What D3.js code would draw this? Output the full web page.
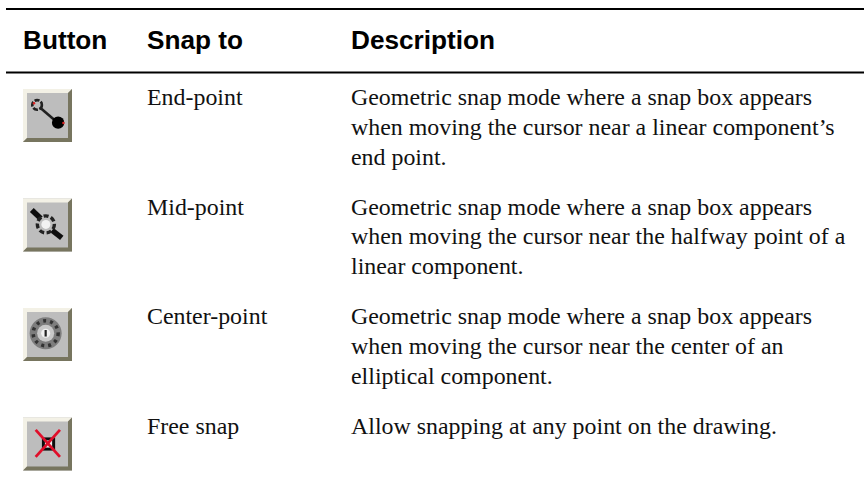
<!DOCTYPE html>
<html>
<head>
<meta charset="utf-8">
<script src="https://cdn.jsdelivr.net/npm/d3@7"></script>
<style>
    html, body { margin: 0; padding: 0; background: #fff; }
    svg { display: block; }
    .head { font-family: "Liberation Sans", Arial, sans-serif; font-weight: bold; font-size: 26.2px; fill: #000; }
    .cell { font-family: "Liberation Serif", "Times New Roman", serif; font-size: 23.9px; fill: #111; }
</style>
</head>
<body>
<div id="container"></div>
<script>
//table content
var headers = ["Button", "Snap to", "Description"];
var buttons = ["end", "mid", "center", "free"];
var snapTo = ["End-point", "Mid-point", "Center-point", "Free snap"];
var descriptions = [
    ["Geometric snap mode where a snap box appears",
     "when moving the cursor near a linear component\u2019s",
     "end point."],
    ["Geometric snap mode where a snap box appears",
     "when moving the cursor near the halfway point of a",
     "linear component."],
    ["Geometric snap mode where a snap box appears",
     "when moving the cursor near the center of an",
     "elliptical component."],
    ["Allow snapping at any point on the drawing."]
];

// width and height
var width = 864;
var height = 487;

var svg = d3.select("#container")
    .append("svg")
    .attr("width", width)
    .attr("height", height);

//soft look of the scaled up screenshot icons
svg.append("defs").append("filter")
    .attr("id", "soft")
    .append("feGaussianBlur")
    .attr("stdDeviation", 0.7);

// columns and rows
var colX = d3.scaleOrdinal().domain(headers).range([23, 147, 351]);
var rowY = d3.scalePoint().domain(buttons).range([89, 417.5]);
var lineHeight = 29.6;
var baseline = 16.3;

// table rules
svg.selectAll("line.rule")
    .data([9, 72.6])
    .enter()
    .append("line")
    .attr("class", "rule")
    .attr("x1", 6)
    .attr("x2", width)
    .attr("y1", d => d)
    .attr("y2", d => d)
    .attr("stroke", "#000")
    .attr("stroke-width", 2);

// header row
svg.selectAll("text.head")
    .data(headers)
    .enter()
    .append("text")
    .attr("class", "head")
    .attr("x", d => colX(d))
    .attr("y", 48.5)
    .text(d => d);

// snap to column
svg.selectAll("text.snap")
    .data(snapTo)
    .enter()
    .append("text")
    .attr("class", "cell snap")
    .attr("x", colX("Snap to"))
    .attr("y", (d, i) => rowY(buttons[i]) + baseline)
    .text(d => d);

// description column
descriptions.forEach(function (lines, i) {
    svg.selectAll("text.desc" + i)
        .data(lines)
        .enter()
        .append("text")
        .attr("class", "cell desc" + i)
        .attr("x", colX("Description"))
        .attr("y", (d, j) => rowY(buttons[i]) + baseline + j * lineHeight)
        .text(d => d);
});

// icons, drawn on a 24x26 pixel grid like the original toolbar bitmaps
var iconW = 49;
var iconH = 53;
var px = d3.scaleLinear().domain([0, 24]).range([0, iconW]);
var py = d3.scaleLinear().domain([0, 26]).range([0, iconH]);

function drawButton(g) {
    g.append("rect").attr("width", iconW).attr("height", iconH).attr("fill", "#bdbdbd");
    g.append("path")
        .attr("d", `M0 0H${iconW}L${iconW - 4} 4H4V${iconH - 4}L0 ${iconH}Z`)
        .attr("fill", "#f3f1e6");
    g.append("path")
        .attr("d", `M${iconW} 0V${iconH}H0L4 ${iconH - 4}H${iconW - 4}V4Z`)
        .attr("fill", "#77745f");
}

function seg(g, a, b, c, d, color, w) {
    g.append("line")
        .attr("x1", px(a)).attr("y1", py(b))
        .attr("x2", px(c)).attr("y2", py(d))
        .attr("stroke", color).attr("stroke-width", w);
}

function dot(g, a, b, r, fill, stroke, w, dash) {
    g.append("circle")
        .attr("cx", px(a)).attr("cy", py(b)).attr("r", r)
        .attr("fill", fill).attr("stroke", stroke).attr("stroke-width", w)
        .attr("stroke-dasharray", dash);
}

var glyphs = {
    end: function (g) {
        seg(g, 7, 8, 17, 16.5, "#222", 2.6);
        dot(g, 6.9, 7.8, 4.8, "#bdbdbd", "#222", 2.6, "5 1.5");
        dot(g, 17.2, 16.5, 6.2, "#000", "none", 0);
        dot(g, 5.4, 7, 1.2, "#d22", "none", 0);
        dot(g, 19.8, 16.7, 1.2, "#d22", "none", 0);
    },
    mid: function (g) {
        seg(g, 4.3, 5.6, 9.5, 10.5, "#111", 5.5);
        seg(g, 13.5, 15, 19, 19.3, "#111", 5.5);
        dot(g, 11.2, 12.7, 8.5, "#bdbdbd", "#222", 3.4, "5 2.5");
        dot(g, 11.2, 12.7, 4.5, "#f2f2f2", "none", 0);
    },
    center: function (g) {
        dot(g, 11.1, 12.4, 16, "#7d7d7d", "none", 0);
        dot(g, 11.1, 12.4, 12.5, "none", "#333", 3.5, "3 4");
        dot(g, 11.1, 12.4, 8.5, "#c8c8c8", "none", 0);
        dot(g, 11.1, 12.4, 4.5, "#f0f0f0", "none", 0);
        seg(g, 11.1, 10.8, 11.1, 14, "#222", 2.2);
    },
    free: function (g) {
        g.append("rect")
            .attr("x", px(10)).attr("y", py(10.5))
            .attr("width", px(5)).attr("height", py(5))
            .attr("fill", "#eee").attr("stroke", "#111").attr("stroke-width", 3);
        seg(g, 6.2, 6.1, 18.1, 19.3, "#e0102a", 2.8);
        seg(g, 18.1, 6.1, 6.2, 19.3, "#e0102a", 2.8);
    }
};

var icons = svg.selectAll("g.icon")
    .data(buttons)
    .enter()
    .append("g")
    .attr("class", "icon")
    .attr("transform", d => `translate(${colX("Button")},${rowY(d)})`)
    .attr("filter", "url(#soft)");

icons.each(function (d) {
    var g = d3.select(this);
    drawButton(g);
    glyphs[d](g);
});
</script>
</body>
</html>
